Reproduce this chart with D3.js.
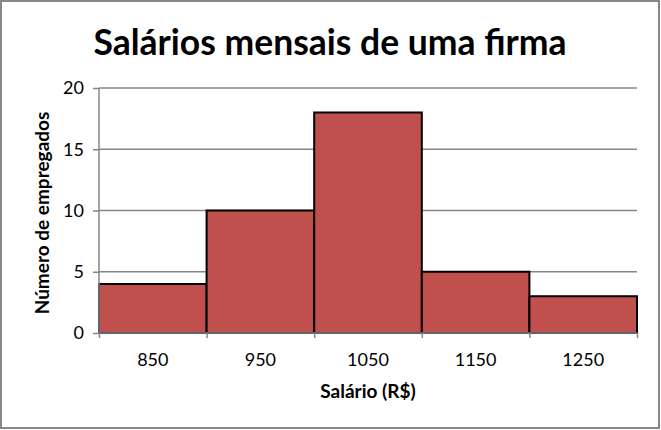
<!DOCTYPE html>
<html><head><meta charset="utf-8">
<script src="https://cdn.jsdelivr.net/npm/d3@7/dist/d3.min.js"></script>
<style>body{margin:0;background:#fff}svg{display:block}text{font-family:Lato,"Open Sans",sans-serif}</style>
</head><body><svg id="c" width="661" height="430"></svg>
<script>
const categories = ["850","950","1050","1150","1250"];
const binStarts = [800,900,1000,1100,1200];
const binWidth = 100;
const values = [4,10,18,5,3];
const yTicks = [0,5,10,15,20];

const svg = d3.select("#c");
svg.append("rect").attr("x",1).attr("y",1).attr("width",658).attr("height",427)
  .attr("fill","#fff").attr("stroke","#868686").attr("stroke-width",2);

const L=99,R=637,T=88,B=333;
const x = d3.scaleLinear().domain([800,1300]).range([L,R]);
const y = d3.scaleLinear().domain([0,20]).range([B,T]);

// gridlines
svg.append("g").selectAll("line").data(yTicks.filter(d=>d>0)).join("line")
  .attr("x1",L).attr("x2",R).attr("y1",d=>y(d)).attr("y2",d=>y(d))
  .attr("stroke","#868686").attr("stroke-width",1.5);

// bars
svg.append("g").selectAll("rect").data(values).join("rect")
  .attr("x",(d,i)=>x(binStarts[i])).attr("width",(d,i)=>x(binStarts[i]+binWidth)-x(binStarts[i]))
  .attr("y",d=>y(d)).attr("height",d=>B-y(d))
  .attr("fill","#C0504D").attr("stroke","#000").attr("stroke-width",2);

// y axis
const ya = svg.append("g").attr("transform",`translate(${L},0)`)
  .call(d3.axisLeft(y).tickValues(yTicks).tickSize(6).tickPadding(9));
ya.select(".domain").attr("stroke","#868686").attr("stroke-width",1.5).attr("d",`M0,${T}V${B}`);
ya.selectAll(".tick line").attr("stroke","#868686").attr("stroke-width",1.5);
ya.selectAll(".tick text").attr("font-size",18).attr("fill","#000").attr("font-family","Lato");

// x axis
const edges = binStarts.concat([binStarts[binStarts.length-1]+binWidth]);
const xa = svg.append("g").attr("transform",`translate(0,${B})`)
  .call(d3.axisBottom(x).tickValues(edges).tickSize(5).tickFormat(""));
xa.select(".domain").attr("stroke","#868686").attr("stroke-width",1.5).attr("d",`M${L},0H${R}`);
xa.selectAll(".tick line").attr("stroke","#868686").attr("stroke-width",1.5);

svg.append("g").selectAll("text").data(categories).join("text")
  .attr("x",(d,i)=>x(binStarts[i]+binWidth/2)).attr("y",366)
  .attr("text-anchor","middle").attr("font-size",18).text(d=>d);

// titles
svg.append("text").attr("x",330).attr("y",55).attr("text-anchor","middle")
  .attr("font-size",35.5).attr("font-weight","bold").text("Salários mensais de uma firma");
svg.append("text").attr("x",368).attr("y",398).attr("text-anchor","middle")
  .attr("font-size",19).attr("font-weight","bold").text("Salário (R$)");
svg.append("text").attr("transform","translate(49,213) rotate(-90)").attr("text-anchor","middle")
  .attr("font-size",19).attr("font-weight","bold").text("Número de empregados");
</script></body></html>
